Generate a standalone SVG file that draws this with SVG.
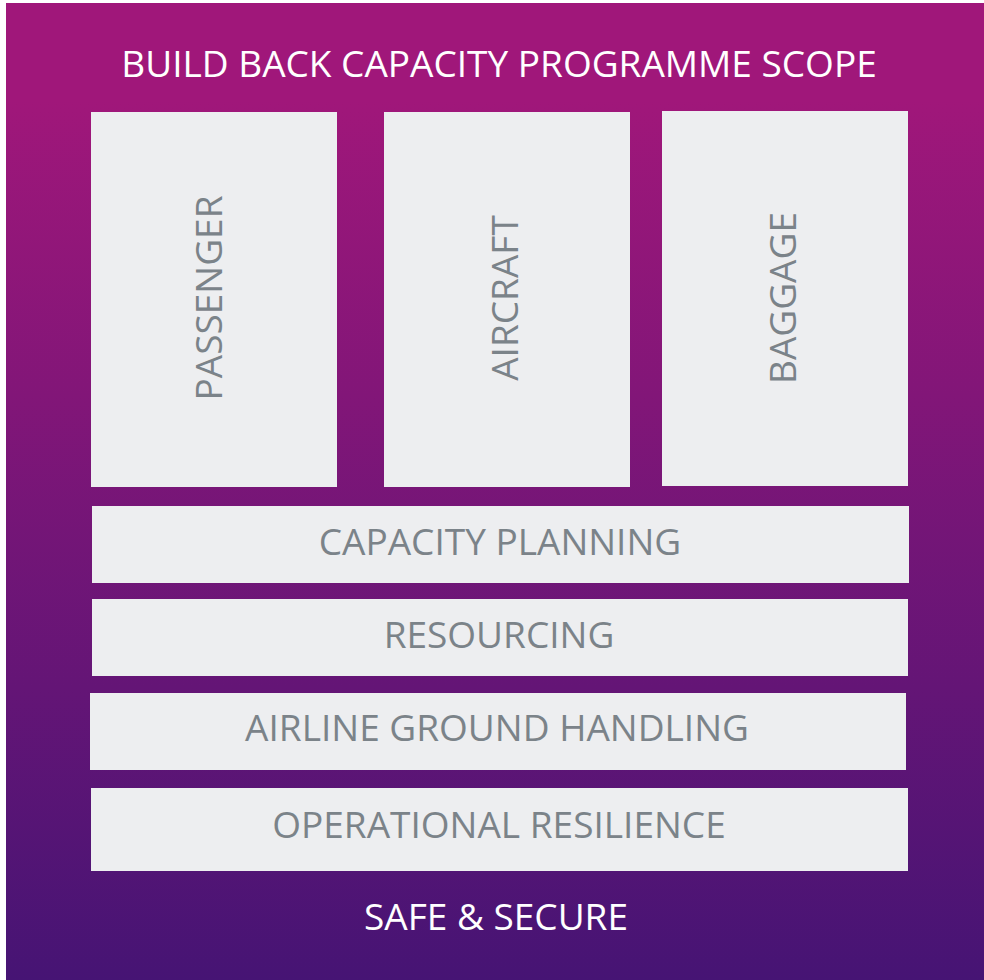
<svg xmlns="http://www.w3.org/2000/svg" width="984" height="980" viewBox="0 0 984 980">
<defs>
<linearGradient id="bg" x1="0" y1="3" x2="0" y2="980" gradientUnits="userSpaceOnUse">
<stop offset="0.1" stop-color="#A0177A"/>
<stop offset="1" stop-color="#461474"/>
</linearGradient>
<style>
.box{fill:#EDEEF0}
.lbl{font-family:"Open Sans","Noto Sans",sans-serif;font-size:37px;fill:#7B8389;text-anchor:middle}
.wt{font-family:"Open Sans","Noto Sans",sans-serif;font-size:37px;fill:#FFFFFF;text-anchor:middle}
</style>
</defs>
<rect x="0" y="0" width="984" height="980" fill="#FFFFFF"/>
<rect x="6" y="3" width="978" height="977" fill="url(#bg)"/>
<text class="wt" x="499" y="77">BUILD BACK CAPACITY PROGRAMME SCOPE</text>
<g id="passenger">
<rect class="box" x="91" y="112" width="246" height="375"/>
<text class="lbl" transform="translate(222,298) rotate(-90)">PASSENGER</text>
</g>
<g id="aircraft">
<rect class="box" x="384" y="112" width="246" height="375"/>
<text class="lbl" transform="translate(518,298) rotate(-90)">AIRCRAFT</text>
</g>
<g id="baggage">
<rect class="box" x="662" y="111" width="246" height="375"/>
<text class="lbl" transform="translate(796,298) rotate(-90)">BAGGAGE</text>
</g>
<g id="capacity-planning">
<rect class="box" x="92" y="506" width="817" height="77"/>
<text class="lbl" x="500" y="555">CAPACITY PLANNING</text>
</g>
<g id="resourcing">
<rect class="box" x="92" y="599" width="816" height="77"/>
<text class="lbl" x="499" y="648">RESOURCING</text>
</g>
<g id="airline-ground-handling">
<rect class="box" x="90" y="693" width="816" height="77"/>
<text class="lbl" x="497" y="741">AIRLINE GROUND HANDLING</text>
</g>
<g id="operational-resilience">
<rect class="box" x="91" y="788" width="817" height="83"/>
<text class="lbl" x="499" y="838">OPERATIONAL RESILIENCE</text>
</g>
<text class="wt" x="496" y="930">SAFE &amp; SECURE</text>
<g id="connectors"/>
</svg>
